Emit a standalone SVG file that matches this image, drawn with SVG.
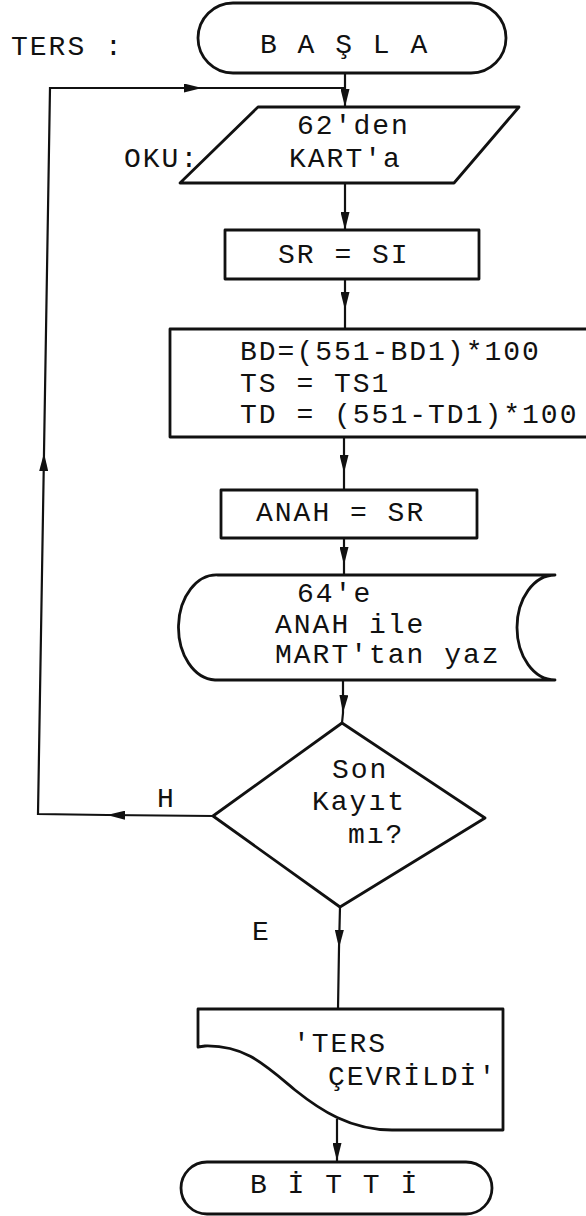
<svg xmlns="http://www.w3.org/2000/svg" width="586" height="1216" viewBox="0 0 586 1216">
<style>
.s{fill:#fff;stroke:#111;stroke-width:2.8;stroke-linejoin:round}
.c{fill:none;stroke:#111;stroke-width:2.2}
text{font-family:"Liberation Mono","DejaVu Sans Mono",monospace;font-size:28px;letter-spacing:2px;fill:#111}
</style>
<defs>
<marker id="arr" markerUnits="userSpaceOnUse" markerWidth="18" markerHeight="9" refX="18" refY="4.5" orient="auto">
<path d="M0,0 L18,4.5 L0,9 Z" fill="#111"/>
</marker>
</defs>
<g id="title"><text x="11" y="55">TERS :</text></g>
<g id="connectors">
<path class="c" d="M345,73 L345,107" marker-end="url(#arr)"/>
<path class="c" d="M345,183 L345,230" marker-end="url(#arr)"/>
<path class="c" d="M345,279 L345,310 L345,329" marker-mid="url(#arr)"/>
<path class="c" d="M344,437 L344,473 L344,490" marker-mid="url(#arr)"/>
<path class="c" d="M344,538 L344,565 L344,575" marker-mid="url(#arr)"/>
<path class="c" d="M343,680 L343,713 L342,723" marker-mid="url(#arr)"/>
<path class="c" d="M340,907 L339,948 L338,1009" marker-mid="url(#arr)"/>
<path class="c" d="M337,1119 L337,1161" marker-end="url(#arr)"/>
<path class="c" d="M213,816 L107,815" marker-end="url(#arr)"/>
<path class="c" d="M107,815 L38,814 L44,453" marker-end="url(#arr)"/>
<path class="c" d="M44,453 L50,88 L202,88" marker-end="url(#arr)"/>
<path class="c" d="M202,88 L345,88"/>
<text x="157" y="807">H</text>
<text x="252" y="940">E</text>
</g>
<g id="basla">
<rect class="s" x="198" y="3" width="308" height="70" rx="35"/>
<text x="260" y="53">B A Ş L A</text>
</g>
<g id="oku">
<path class="s" d="M258,107 L519,107 L454,183 L180,183 Z"/>
<text x="297" y="134">62'den</text>
<text x="289" y="167">KART'a</text>
<text x="124" y="167">OKU:</text>
</g>
<g id="srsi">
<rect class="s" x="225" y="230" width="254" height="49"/>
<text x="278" y="263">SR = SI</text>
</g>
<g id="bd">
<rect class="s" x="170" y="329" width="440" height="108"/>
<text x="240" y="360">BD=(551-BD1)*100</text>
<text x="240" y="392">TS = TS1</text>
<text x="240" y="423">TD = (551-TD1)*100</text>
</g>
<g id="anah">
<rect class="s" x="221" y="490" width="256" height="48"/>
<text x="256" y="521">ANAH = SR</text>
</g>
<g id="yaz">
<path class="s" d="M218,575 L555,575 A38,52.5 0 0 0 555,680 L215,680 A38,52.5 0 0 1 218,575 Z"/>
<text x="297" y="602">64'e</text>
<text x="275" y="633">ANAH ile</text>
<text x="275" y="663">MART'tan yaz</text>
</g>
<g id="sonkayit">
<path class="s" d="M342,723 L485,818 L340,907 L213,816 Z"/>
<text x="332" y="778">Son</text>
<text x="312" y="810">Kayıt</text>
<text x="348" y="843">mı?</text>
</g>
<g id="ters">
<path class="s" d="M198,1009 L503,1009 L503,1130 L392,1130 C350,1130 320,1110 295,1090 C265,1065 245,1045 205,1046 L198,1047 Z"/>
<text x="293" y="1052">'TERS</text>
<text x="328" y="1085">ÇEVRİLDİ'</text>
</g>
<g id="bitti">
<rect class="s" x="181" y="1162" width="311" height="52" rx="26"/>
<text x="250" y="1193">B İ T T İ</text>
</g>
</svg>
